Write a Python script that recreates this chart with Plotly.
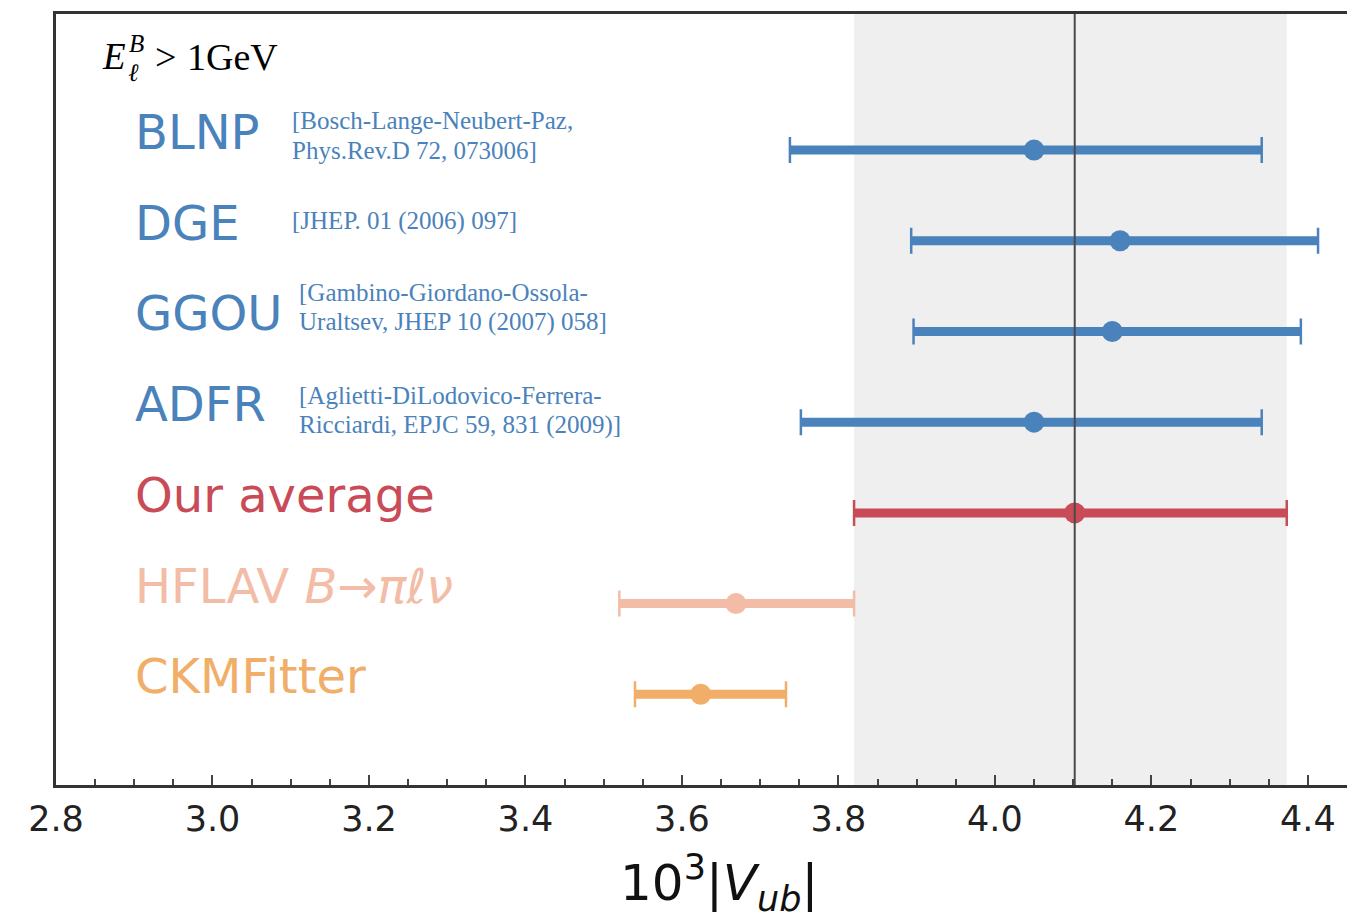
import plotly.graph_objects as go

# ---------------- data ----------------
methods = ["BLNP", "DGE", "GGOU", "ADFR", "Our average",
           "HFLAV <i>B</i>→<i>πℓν</i>", "CKMFitter"]
references = ["[Bosch-Lange-Neubert-Paz,<br>Phys.Rev.D 72, 073006]",
              "[JHEP. 01 (2006) 097]",
              "[Gambino-Giordano-Ossola-<br>Uraltsev, JHEP 10 (2007) 058]",
              "[Aglietti-DiLodovico-Ferrera-<br>Ricciardi, EPJC 59, 831 (2009)]",
              "", "", ""]
rows = [7, 6, 5, 4, 3, 2, 1]
central = [4.050, 4.160, 4.150, 4.050, 4.102, 3.669, 3.624]
lower = [3.738, 3.893, 3.896, 3.752, 3.820, 3.520, 3.540]
upper = [4.341, 4.413, 4.391, 4.341, 4.373, 3.820, 3.733]
avg_index = 4
x_ticks = [2.8, 3.0, 3.2, 3.4, 3.6, 3.8, 4.0, 4.2, 4.4]

# ---------------- style ----------------
colors = ["#4a82bb", "#4a82bb", "#4a82bb", "#4a82bb", "#c84b57", "#f3bca6", "#f0ae68"]
name_x = 2.898
ref_x = [3.099, 3.099, 3.108, 3.108]
ref_shift = [15, 20, 24, 12]
line_gap = 30

fig = go.Figure()

# average band and central line
fig.add_shape(type="rect", xref="x", yref="paper",
              x0=lower[avg_index], x1=upper[avg_index], y0=0, y1=1,
              fillcolor="#efefef", line_width=0, layer="below")

for i in range(len(methods)):
    fig.add_trace(go.Scatter(x=[lower[i], upper[i]], y=[rows[i], rows[i]],
                             mode="lines", line=dict(color=colors[i], width=9),
                             showlegend=False, hoverinfo="skip"))
    fig.add_trace(go.Scatter(
        x=[central[i]], y=[rows[i]], mode="markers",
        marker=dict(color=colors[i], size=21),
        error_x=dict(type="data", symmetric=False,
                     array=[upper[i] - central[i]],
                     arrayminus=[central[i] - lower[i]],
                     color=colors[i], thickness=2.5, width=13),
        showlegend=False))

fig.add_shape(type="line", xref="x", yref="paper",
              x0=central[avg_index], x1=central[avg_index], y0=0, y1=1,
              line=dict(color="#4a4a4a", width=2), layer="above")

# labels
for i in range(len(methods)):
    fig.add_annotation(x=name_x, y=rows[i], xref="x", yref="y",
                       text=methods[i], showarrow=False,
                       xanchor="left", yanchor="middle", yshift=18,
                       font=dict(family="DejaVu Sans", size=48, color=colors[i]))
    if references[i]:
        lines = references[i].split("<br>")
        n = len(lines)
        for k, ln in enumerate(lines):
            off = ref_shift[i] + ((n - 1) / 2 - k) * line_gap
            fig.add_annotation(x=ref_x[i], y=rows[i], xref="x", yref="y",
                               text=ln, showarrow=False, align="left",
                               xanchor="left", yanchor="middle", yshift=off,
                               font=dict(family="Liberation Serif", size=25,
                                         color=colors[i]))

serif = "Liberation Serif"
fig.add_annotation(x=0.034, y=8.03, xref="paper", yref="y", text="<i>E</i>",
                   showarrow=False, xanchor="left", yanchor="middle",
                   font=dict(family=serif, size=37, color="black"))
fig.add_annotation(x=0.055, y=8.18, xref="paper", yref="y", text="<i>B</i>",
                   showarrow=False, xanchor="left", yanchor="middle",
                   font=dict(family=serif, size=25, color="black"))
fig.add_annotation(x=0.054, y=7.86, xref="paper", yref="y", text="<i>ℓ</i>",
                   showarrow=False, xanchor="left", yanchor="middle",
                   font=dict(family=serif, size=25, color="black"))
fig.add_annotation(x=0.075, y=8.03, xref="paper", yref="y", text=">",
                   showarrow=False, xanchor="left", yanchor="middle",
                   font=dict(family=serif, size=38, color="black"))
fig.add_annotation(x=0.100, y=8.03, xref="paper", yref="y", text="1GeV",
                   showarrow=False, xanchor="left", yanchor="middle",
                   font=dict(family=serif, size=38, color="black"))

# axis title
fig.add_annotation(x=0.5136, y=0, xref="paper", yref="paper",
                   text="10<sup>3</sup>|<i>V</i><sub><i>ub</i></sub>|",
                   showarrow=False, xanchor="center", yanchor="middle", yshift=-98,
                   font=dict(family="DejaVu Sans", size=50, color="#111"))

fig.update_layout(
    width=1347, height=913,
    margin=dict(l=56, r=0, t=14, b=128),
    paper_bgcolor="white", plot_bgcolor="white",
    xaxis=dict(range=[2.8, 4.45], tickvals=x_ticks, tickformat=".1f",
               ticks="inside", ticklen=10, tickwidth=2, tickcolor="#444",
               minor=dict(dtick=0.05, tick0=2.8, ticks="inside", ticklen=6,
                          tickwidth=1.5, tickcolor="#444", showgrid=False),
               showline=True, linewidth=3, linecolor="#333", mirror=True,
               showgrid=False, zeroline=False,
               tickfont=dict(family="DejaVu Sans", size=35, color="#222"),
               ticklabelstandoff=1),
    yaxis=dict(range=[0, 8.5], showticklabels=False, ticks="",
               showline=True, linewidth=3, linecolor="#333", mirror=False,
               showgrid=False, zeroline=False),
)

fig.write_html("out.html")
